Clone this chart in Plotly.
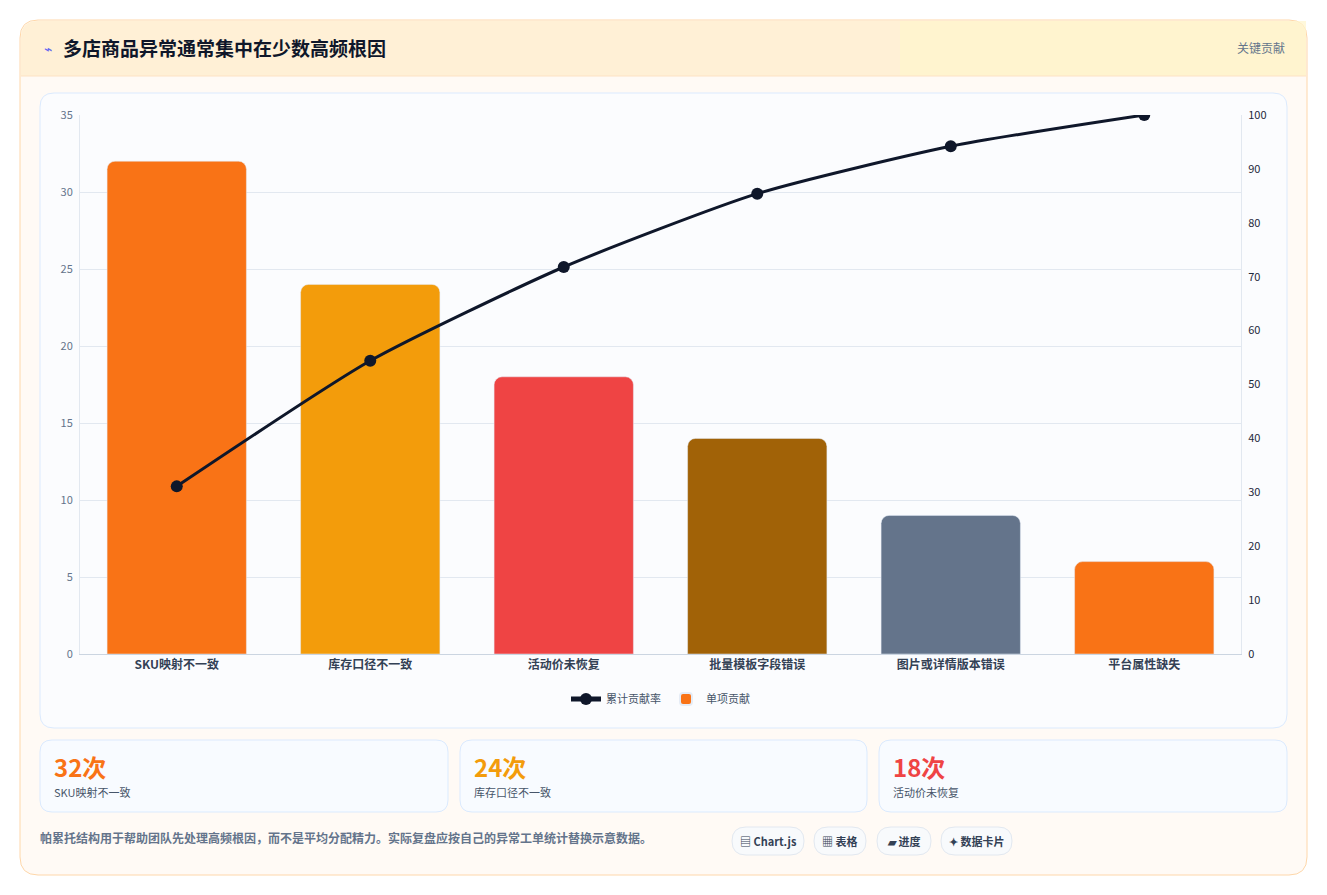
import plotly.graph_objects as go

categories = ["SKU映射不一致", "库存口径不一致", "活动价未恢复", "批量模板字段错误", "图片或详情版本错误", "平台属性缺失"]
counts = [32, 24, 18, 14, 9, 6]
bar_colors = ["#f97316", "#f39c0b", "#ef4444", "#a16207", "#64748b", "#f97316"]
total = sum(counts)
cumulative = []
s = 0
for c in counts:
    s += c
    cumulative.append(round(s / total * 100, 1))
left_ticks = [0, 5, 10, 15, 20, 25, 30, 35]
right_ticks = [0, 10, 20, 30, 40, 50, 60, 70, 80, 90, 100]
card_values = ["32次", "24次", "18次"]
card_labels = ["SKU映射不一致", "库存口径不一致", "活动价未恢复"]
card_colors = ["#f97316", "#f39c0b", "#ef4444"]
chips = ["▤ Chart.js", "▦ 表格", "▰ 进度", "✦ 数据卡片"]

OFF = 8
W, H = 1327, 895
L, R, T, B = 80 - OFF, 1327 - (1241 - OFF), 115 - OFF, 895 - (654 - OFF)
PW, PH = W - L - R, H - T - B

def px(x): return (x - OFF - L) / PW
def py(y): return (H - B - (y - OFF)) / PH

def rrect(x0, y0, x1, y1, r):
    a0, b0, a1, b1 = px(x0), py(y0), px(x1), py(y1)
    rx, ry = r / PW, r / PH
    return (f"M{a0+rx},{b0} L{a1-rx},{b0} Q{a1},{b0} {a1},{b0-ry} L{a1},{b1+ry} Q{a1},{b1} {a1-rx},{b1} "
            f"L{a0+rx},{b1} Q{a0},{b1} {a0},{b1+ry} L{a0},{b0-ry} Q{a0},{b0} {a0+rx},{b0} Z")

FONT = "Noto Sans CJK SC"
fig = go.Figure()
fig.add_trace(go.Scatter(x=categories, y=cumulative, name="累计贡献率", yaxis="y2", mode="lines+markers",
                         line=dict(color="#0f172a", width=3, shape="spline", smoothing=0.6),
                         marker=dict(size=12, color="#0f172a")))
fig.add_trace(go.Bar(x=categories, y=counts, name="单项贡献", marker=dict(color=bar_colors, cornerradius=8),
                     width=0.72))

shapes = []
shapes.append(dict(type="path", path=rrect(20, 20, 1307, 875, 18), xref="paper", yref="paper",
                   fillcolor="#fffaf5", line=dict(color="#fed7aa", width=1), layer="below"))
shapes.append(dict(type="path", path=rrect(21, 21, 1306, 76, 17), xref="paper", yref="paper",
                   fillcolor="#fff0d6", line=dict(width=0), layer="below"))
shapes.append(dict(type="rect", x0=px(21), x1=px(1306), y0=py(76), y1=py(50), xref="paper", yref="paper",
                   fillcolor="#fff0d6", line=dict(width=0), layer="below"))
shapes.append(dict(type="rect", x0=px(900), x1=px(1306), y0=py(76), y1=py(21), xref="paper", yref="paper",
                   fillcolor="#fff5cc", line=dict(width=0), layer="below", opacity=0.7))
shapes.append(dict(type="line", x0=px(21), x1=px(1306), y0=py(76), y1=py(76), xref="paper", yref="paper",
                   line=dict(color="#fde2c4", width=1), layer="below"))
shapes.append(dict(type="path", path=rrect(40, 93, 1287, 728, 14), xref="paper", yref="paper",
                   fillcolor="#fbfcfe", line=dict(color="#dbeafe", width=1), layer="below"))
cards_x = [(40, 448), (460, 867), (879, 1287)]
for (x0, x1) in cards_x:
    shapes.append(dict(type="path", path=rrect(x0, 740, x1, 812, 12), xref="paper", yref="paper",
                       fillcolor="#f8fbff", line=dict(color="#dbeafe", width=1), layer="below"))
chip_x = [(732, 804), (814, 866), (877, 931), (941, 1012)]
for (x0, x1) in chip_x:
    shapes.append(dict(type="path", path=rrect(x0, 827, x1, 855, 14), xref="paper", yref="paper",
                       fillcolor="#f8fafc", line=dict(color="#e2e8f0", width=1), layer="below"))

ann = []
def A(x, y, text, xa, size, color):
    ann.append(dict(x=px(x), y=py(y), xref="paper", yref="paper", text=text, showarrow=False, xanchor=xa,
                    yanchor="middle", font=dict(size=size, color=color, family=FONT)))

A(42, 48, "⌁", "left", 14, "#6366f1")
A(61, 48, "<b>多店商品异常通常集中在少数高频根因</b>", "left", 19, "#0f172a")
A(1287, 48, "关键贡献", "right", 12, "#64748b")
for (x0, x1), v, lab, col in zip(cards_x, card_values, card_labels, card_colors):
    A(x0 + 12, 766, f"<b>{v}</b>", "left", 24, col)
    A(x0 + 12, 792, lab, "left", 11, "#475569")
A(38, 837, "<b>帕累托结构用于帮助团队先处理高频根因，而不是平均分配精力。实际复盘应按自己的异常工单统计替换示意数据。</b>",
  "left", 12, "#64748b")
for (x0, x1), t in zip(chip_x, chips):
    A((x0 + x1) / 2, 841, f"<b>{t}</b>", "center", 11, "#334155")

fig.update_layout(
    width=W, height=H, margin=dict(l=L, r=R, t=T, b=B, autoexpand=False),
    paper_bgcolor="white", plot_bgcolor="rgba(0,0,0,0)",
    font=dict(family=FONT, color="#334155"),
    shapes=shapes, annotations=ann, bargap=0.28,
    xaxis=dict(tickfont=dict(size=12, color="#334155", family=FONT), showgrid=False, showline=True,
               linecolor="#cbd5e1", ticks="", tickprefix="<b>", ticksuffix="</b>"),
    yaxis=dict(range=[0, 35], tickvals=left_ticks, gridcolor="#e2e8f0", showline=True, linecolor="#e2e8f0",
               tickfont=dict(size=11, color="#64748b"), zeroline=False, ticks="outside", ticklen=4, tickcolor="rgba(0,0,0,0)"),
    yaxis2=dict(range=[0, 100], tickvals=right_ticks, overlaying="y", side="right", showgrid=False,
                showline=True, linecolor="#e2e8f0", tickfont=dict(size=11, color="#1e293b"), zeroline=False,
                ticks="outside", ticklen=4, tickcolor="rgba(0,0,0,0)"),
    legend=dict(orientation="h", x=0.5, xanchor="center", y=py(699), yanchor="middle",
                font=dict(size=11, color="#475569", family=FONT), bgcolor="rgba(0,0,0,0)",
                itemsizing="constant", traceorder="normal"),
)
fig.write_html("out.html")
